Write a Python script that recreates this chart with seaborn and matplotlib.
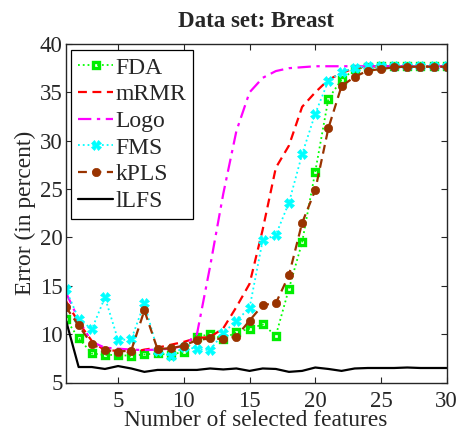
import numpy as np
import pandas as pd
import matplotlib
matplotlib.use("Agg")
import matplotlib.pyplot as plt
import seaborn as sns

features = list(range(1, 31))

fda = [11.6, 9.6, 8.0, 7.85, 7.85, 7.75, 7.9, 8.0, 7.85, 8.2,
       9.7, 10.0, 9.5, 10.2, 10.55, 11.0, 9.85, 14.7, 19.5, 26.8,
       34.35, 36.3, 37.4, 37.6, 37.7, 37.7, 37.7, 37.7, 37.7, 37.7]
mrmr = [13.5, 11.2, 9.3, 8.3, 8.3, 8.1, 8.4, 8.6, 8.9, 9.2,
        9.6, 9.7, 10.6, 12.8, 15.2, 20.8, 27.2, 29.5, 33.5, 35.0,
        36.3, 37.0, 37.5, 37.7, 37.7, 37.7, 37.7, 37.7, 37.7, 37.7]
logo = [14.4, 11.5, 9.2, 8.6, 8.5, 8.4, 8.35, 8.4, 8.5, 8.8,
        10.0, 17.0, 24.5, 31.0, 35.0, 36.5, 37.2, 37.5, 37.6, 37.7,
        37.7, 37.7, 37.7, 37.7, 37.7, 37.7, 37.7, 37.7, 37.7, 37.7]
fms = [14.7, 11.6, 10.5, 13.8, 9.4, 9.45, 13.2, 8.3, 7.7, 8.7,
       8.45, 8.35, 10.1, 11.4, 12.7, 19.7, 20.25, 23.6, 28.6, 32.8,
       36.2, 37.1, 37.55, 37.7, 37.7, 37.7, 37.7, 37.7, 37.7, 37.7]
kpls = [12.85, 10.9, 8.95, 8.35, 8.2, 8.3, 12.45, 8.45, 8.55, 8.8,
        9.4, 9.55, 9.5, 9.75, 11.4, 13.0, 13.2, 16.1, 21.5, 24.9,
        31.3, 35.65, 36.6, 37.25, 37.4, 37.6, 37.65, 37.65, 37.65, 37.65]
llfs = [11.6, 6.6, 6.6, 6.4, 6.7, 6.45, 6.1, 6.3, 6.3, 6.3,
        6.3, 6.45, 6.35, 6.45, 6.2, 6.45, 6.4, 6.1, 6.2, 6.55,
        6.4, 6.2, 6.45, 6.5, 6.5, 6.5, 6.55, 6.5, 6.5, 6.5]

names = ["FDA", "mRMR", "Logo", "FMS", "kPLS", "lLFS"]
series = [fda, mrmr, logo, fms, kpls, llfs]

sns.set_style("ticks")
plt.rcParams["font.family"] = ["Liberation Serif", "DejaVu Serif"]

fig = plt.figure(figsize=(4.57, 4.37), dpi=100)
ax = fig.add_axes([65.5 / 457, 1 - 382.5 / 437, (446.7 - 65.5) / 457, (382.5 - 44) / 437])

brown = (0.6, 0.2, 0.0)
styles = {
    "FDA": dict(color="#00ff00", linestyle=":", marker="s", markersize=5,
                markerfacecolor="none", markeredgecolor="#00ee00",
                markeredgewidth=2.4, linewidth=1.3),
    "mRMR": dict(color="#ff0000", linestyle=(0, (4, 2.5)), linewidth=1.6),
    "Logo": dict(color="#ff00ff", linestyle=(0, (6, 2.5, 1.5, 2.5)), linewidth=1.6),
    "FMS": dict(color="#00ffff", linestyle=":", marker="X", markersize=7,
                markeredgecolor="#00ffff", markeredgewidth=0.5, linewidth=1.3),
    "kPLS": dict(color=brown, linestyle=(0, (4, 2.5)), marker="o", markersize=6,
                 markeredgecolor=brown, markeredgewidth=0.5, linewidth=1.6),
    "lLFS": dict(color="black", linestyle="-", linewidth=1.6),
}

for name, vals in zip(names, series):
    df = pd.DataFrame({"x": features, "y": vals})
    sns.lineplot(data=df, x="x", y="y", ax=ax, label=name, **styles[name])

ax.set_xlim(1, 30)
ax.set_ylim(5, 40)
ax.set_xticks([5, 10, 15, 20, 25, 30])
ax.set_yticks([5, 10, 15, 20, 25, 30, 35, 40])
ax.tick_params(direction="in", top=True, right=True, labelsize=16.5, length=4, width=0.8)
ax.tick_params(axis="x", pad=6)
ax.tick_params(axis="y", pad=2)
for s in ax.spines.values():
    s.set_visible(True)
    s.set_linewidth(1.0)
ax.set_xlabel("Number of selected features", fontsize=16.8, labelpad=-1)
ax.set_ylabel("Error (in percent)", fontsize=16.8, labelpad=3)
ax.set_title("Data set: Breast", fontsize=16.5, fontweight="bold", pad=12)

leg = ax.legend(loc="upper left", fontsize=17, frameon=True, fancybox=False,
                edgecolor="black", framealpha=1, borderpad=0.3, labelspacing=0.22,
                handlelength=1.45, handletextpad=0.12, borderaxespad=0.25)
leg.get_frame().set_linewidth(0.9)

fig.savefig("out.png", dpi=100)
